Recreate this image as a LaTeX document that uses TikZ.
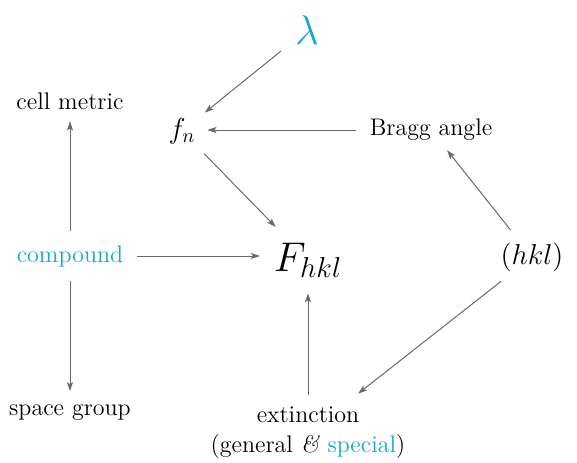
\documentclass[tikz,border=0pt]{standalone}
\usetikzlibrary{arrows.meta}
\definecolor{cy}{RGB}{20,166,214}
\definecolor{ar}{RGB}{105,105,105}
\begin{document}
\begin{tikzpicture}[x=0.5pt,y=-0.5pt,
  lbl/.style={inner sep=0pt,outer sep=0pt,font=\fontsize{12}{14}\selectfont},
  mid/.style={inner sep=0pt,outer sep=0pt,font=\fontsize{14.4}{17}\selectfont},
  big/.style={inner sep=0pt,outer sep=0pt,font=\fontsize{20.7}{24}\selectfont},
  conn/.style={draw=ar,line width=0.5pt,-{Stealth[length=4.5pt,width=3pt,inset=1pt]}}]
\useasboundingbox (0,0) rectangle (577,462);
\node[big,text=cy] (lam) at (307,30) {$\lambda$};
\node[lbl] (cm) at (70,101) {cell metric};
\node[mid] (fn) at (182,131) {$f_n$};
\node[lbl] (bragg) at (431,130) {Bragg angle};
\node[lbl,text=cy] (comp) at (70,256) {compound};
\node[big] (F) at (308,260) {$F_{hkl}$};
\node[mid] (hkl) at (532,257) {$(hkl)$};
\node[lbl] (sg) at (70,413) {space group};
\node[lbl,align=center] (ext) at (308,433) {extinction\\[1pt](general \textit{\&} \textcolor{cy}{special})};
\draw[conn,shorten <=9pt,shorten >=6pt] (lam) -- (fn);
\draw[conn,shorten <=7pt,shorten >=6pt] (bragg.west) -- (bragg.west -| fn.east);
\draw[conn,shorten <=7pt,shorten >=11pt] (fn) -- (F);
\draw[conn,shorten <=7pt,shorten >=6pt] (comp) -- (cm);
\draw[conn,shorten <=7pt,shorten >=7pt] (comp) -- (sg);
\draw[conn,shorten <=7pt,shorten >=7pt] (comp.east) -- (comp.east -| F.west);
\draw[conn,shorten <=8pt,shorten >=6pt] (hkl) -- (bragg);
\draw[conn,shorten <=8pt,shorten >=11pt] (hkl) -- (ext);
\draw[conn,shorten <=6pt,shorten >=8pt] (ext.north) -- (F);
\end{tikzpicture}
\end{document}
